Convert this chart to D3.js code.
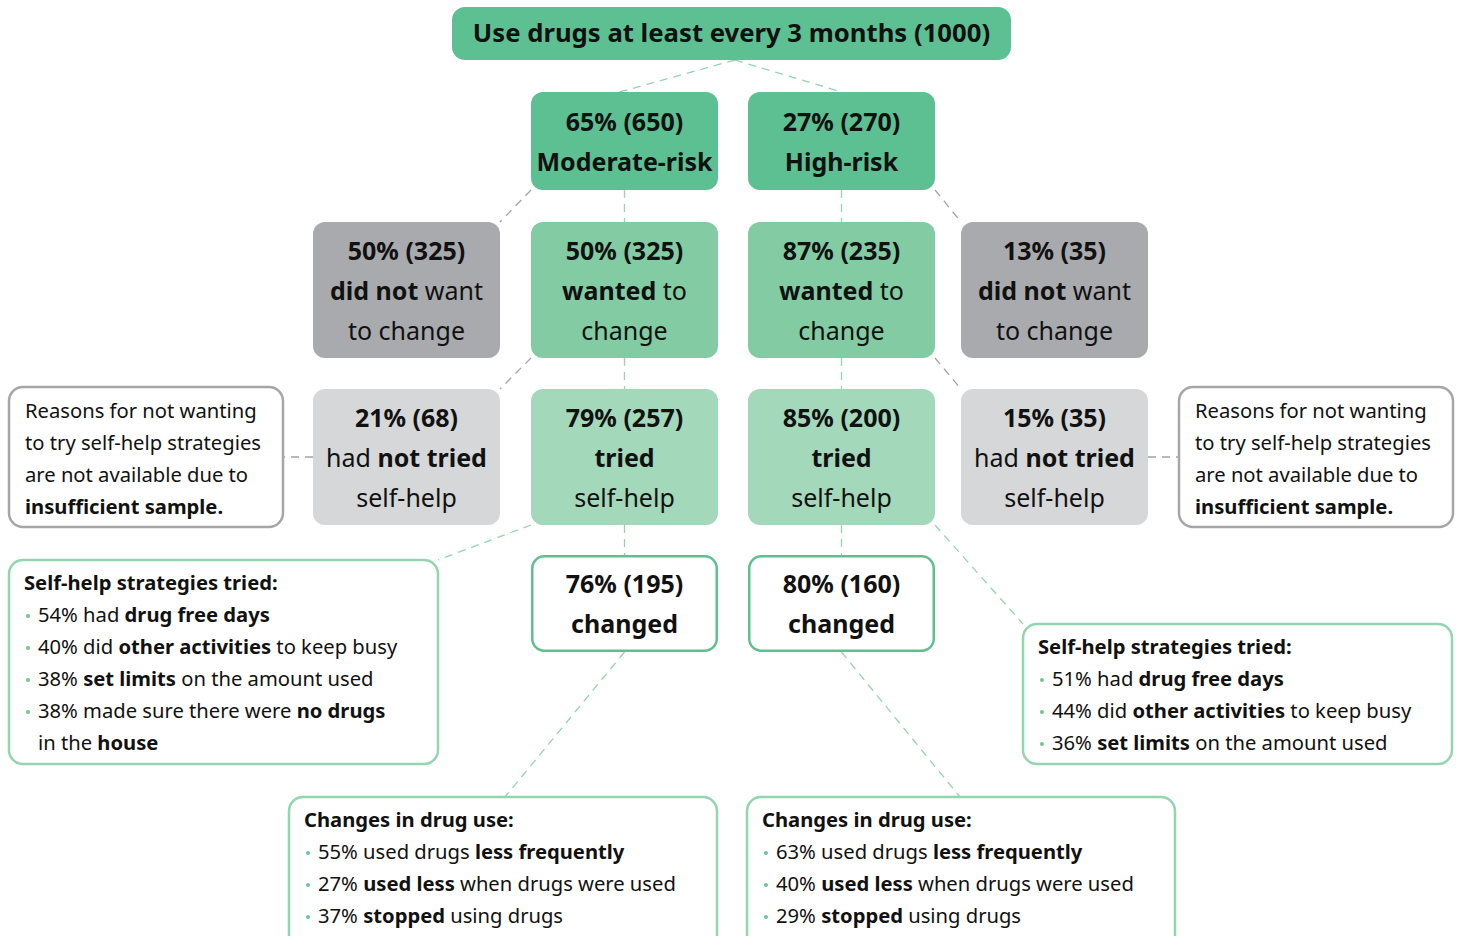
<!DOCTYPE html>
<html>
<head>
<meta charset="utf-8">
<script src="https://cdn.jsdelivr.net/npm/d3@7"></script>
<style>
body { margin: 0; background: #fff; }
svg { display: block; }
text { font-family: "Noto Sans", "Open Sans", sans-serif; fill: #111; white-space: pre; }
</style>
</head>
<body>
<svg width="1462" height="936"></svg>
<script>
// ---- data ----
var title = "Use drugs at least every 3 months (1000)";
var riskGroups = ["Moderate-risk", "High-risk"];
var riskPct = [65, 27];
var riskN = [650, 270];
var wantedPct = [50, 87];
var wantedN = [325, 235];
var notWantedPct = [50, 13];
var notWantedN = [325, 35];
var triedPct = [79, 85];
var triedN = [257, 200];
var notTriedPct = [21, 15];
var notTriedN = [68, 35];
var changedPct = [76, 80];
var changedN = [195, 160];

var reasonsNote = [
    "Reasons for not wanting",
    "to try self-help strategies",
    "are not available due to",
    "**insufficient sample.**"
];

var strategiesTitle = "Self-help strategies tried:";
var strategies = [
    [
        ["54% had **drug free days**"],
        ["40% did **other activities** to keep busy"],
        ["38% **set limits** on the amount used"],
        ["38% made sure there were **no drugs**", "in the **house**"]
    ],
    [
        ["51% had **drug free days**"],
        ["44% did **other activities** to keep busy"],
        ["36% **set limits** on the amount used"]
    ]
];

var changesTitle = "Changes in drug use:";
var changes = [
    [
        ["55% used drugs **less frequently**"],
        ["27% **used less** when drugs were used"],
        ["37% **stopped** using drugs"]
    ],
    [
        ["63% used drugs **less frequently**"],
        ["40% **used less** when drugs were used"],
        ["29% **stopped** using drugs"]
    ]
];

// ---- colours ----
var cTop = "#5dc092";
var cWanted = "#82cba3";
var cTried = "#a3d8ba";
var cGreyDark = "#a9aaae";
var cGreyLight = "#d6d7d9";
var cLineGreen = "#93d4b1";
var cLineGrey = "#a3a3a3";

var svg = d3.select("svg");

// column left edges
var xScale = d3.scaleOrdinal().domain([0, 1, 2, 3]).range([313, 531, 748, 961]);
var boxW = 187;
var rowTop = [92, 222, 389, 555];
var rowHeight = [98, 136, 136, 97];
var lineH = 40;
var nodeSize = 25;

function rich(textSel, str) {
    str.split(/(\*\*[^*]+\*\*)/).filter(function (p) { return p.length; }).forEach(function (part) {
        var bold = part.indexOf("**") === 0;
        textSel.append("tspan")
            .attr("font-weight", bold ? 700 : 400)
            .text(bold ? part.slice(2, -2) : part);
    });
}

function pct(p, n) { return "**" + p + "% (" + n + ")**"; }

// branch 0 -> columns 0/1, branch 1 -> columns 3/2
var nodes = [];
[0, 1].forEach(function (b) {
    var main = b === 0 ? 1 : 2;
    var side = b === 0 ? 0 : 3;
    nodes.push({ col: main, row: 0, fill: cTop, lines: [pct(riskPct[b], riskN[b]), "**" + riskGroups[b] + "**"] });
    nodes.push({ col: main, row: 1, fill: cWanted, lines: [pct(wantedPct[b], wantedN[b]), "**wanted** to", "change"] });
    nodes.push({ col: side, row: 1, fill: cGreyDark, lines: [pct(notWantedPct[b], notWantedN[b]), "**did not** want", "to change"] });
    nodes.push({ col: main, row: 2, fill: cTried, lines: [pct(triedPct[b], triedN[b]), "**tried**", "self-help"] });
    nodes.push({ col: side, row: 2, fill: cGreyLight, lines: [pct(notTriedPct[b], notTriedN[b]), "had **not tried**", "self-help"] });
    nodes.push({ col: main, row: 3, fill: "#fff", stroke: "#5fbf8e", lines: [pct(changedPct[b], changedN[b]), "**changed**"] });
});

function box(d) {
    return { x: xScale(d.col), y: rowTop[d.row], w: boxW, h: rowHeight[d.row] };
}
function cx(col) { return xScale(col) + boxW / 2; }
function bottom(row) { return rowTop[row] + rowHeight[row]; }

// ---- connectors ----
var left = xScale(1), right2 = xScale(2) + boxW;
var sideR = xScale(0) + boxW, sideL = xScale(3);
var connectors = [
    // top
    { p: [[735, 60], [cx(1) - 5, rowTop[0]]], c: cLineGreen },
    { p: [[735, 60], [cx(2), rowTop[0]]], c: cLineGreen },
    // verticals
    { p: [[cx(1), bottom(0)], [cx(1), rowTop[1]]], c: cLineGreen },
    { p: [[cx(2), bottom(0)], [cx(2), rowTop[1]]], c: cLineGreen },
    { p: [[cx(1), bottom(1)], [cx(1), rowTop[2]]], c: cLineGreen },
    { p: [[cx(2), bottom(1)], [cx(2), rowTop[2]]], c: cLineGreen },
    { p: [[cx(1), bottom(2)], [cx(1), rowTop[3]]], c: cLineGreen },
    { p: [[cx(2), bottom(2)], [cx(2), rowTop[3]]], c: cLineGreen },
    // side diagonals
    { p: [[left, bottom(0)], [sideR, rowTop[1]]], c: cLineGrey },
    { p: [[right2, bottom(0)], [sideL, rowTop[1]]], c: cLineGrey },
    { p: [[left, bottom(1)], [sideR, rowTop[2]]], c: cLineGrey },
    { p: [[right2, bottom(1)], [sideL, rowTop[2]]], c: cLineGrey },
    // to reason notes
    { p: [[xScale(0), 457], [283, 457]], c: cLineGrey },
    { p: [[sideL + boxW, 457], [1179, 457]], c: cLineGrey },
    // to strategy notes
    { p: [[left, bottom(2)], [438, 560]], c: cLineGreen },
    { p: [[right2, bottom(2)], [1023, 624]], c: cLineGreen },
    // to change notes
    { p: [[cx(1), bottom(3)], [505, 797]], c: cLineGreen },
    { p: [[cx(2), bottom(3)], [960, 797]], c: cLineGreen }
];

svg.selectAll("line.conn")
    .data(connectors)
    .join("line")
    .attr("class", "conn")
    .attr("x1", function (d) { return d.p[0][0]; })
    .attr("y1", function (d) { return d.p[0][1]; })
    .attr("x2", function (d) { return d.p[1][0]; })
    .attr("y2", function (d) { return d.p[1][1]; })
    .attr("stroke", function (d) { return d.c; })
    .attr("stroke-width", 1.3)
    .attr("stroke-dasharray", "8,6");

// ---- title box ----
svg.append("rect")
    .attr("x", 452).attr("y", 7).attr("width", 559).attr("height", 53)
    .attr("rx", 13).attr("fill", cTop);
svg.append("text")
    .attr("x", 731.5).attr("y", 33).attr("dy", "0.35em")
    .attr("text-anchor", "middle")
    .attr("font-size", 25.7).attr("font-weight", 700)
    .text(title);

// ---- nodes ----
var g = svg.selectAll("g.node")
    .data(nodes)
    .join("g")
    .attr("class", "node");

g.append("rect")
    .attr("x", function (d) { return box(d).x + (d.stroke ? 1.25 : 0); })
    .attr("y", function (d) { return box(d).y + (d.stroke ? 1.25 : 0); })
    .attr("width", function (d) { return box(d).w - (d.stroke ? 2.5 : 0); })
    .attr("height", function (d) { return box(d).h - (d.stroke ? 2.5 : 0); })
    .attr("rx", 12)
    .attr("fill", function (d) { return d.fill; })
    .attr("stroke", function (d) { return d.stroke || "none"; })
    .attr("stroke-width", 2.5);

g.each(function (d) {
    var b = box(d);
    var n = d.lines.length;
    var mid = b.y + b.h / 2 + 1;
    var sel = d3.select(this);
    d.lines.forEach(function (line, i) {
        var t = sel.append("text")
            .attr("x", b.x + b.w / 2)
            .attr("y", mid + (i - (n - 1) / 2) * lineH)
            .attr("dy", "0.35em")
            .attr("text-anchor", "middle")
            .attr("font-size", nodeSize);
        rich(t, line);
    });
});

// ---- notes ----
function noteBox(x, y, w, h, stroke) {
    svg.append("rect")
        .attr("x", x).attr("y", y).attr("width", w).attr("height", h)
        .attr("rx", 14).attr("fill", "#fff")
        .attr("stroke", stroke).attr("stroke-width", 2.5);
}
var noteSize = 20.2;
var noteLine = 32;

function reasons(x, y) {
    noteBox(x, y, 274, 140, "#a6a6a6");
    reasonsNote.forEach(function (line, i) {
        var t = svg.append("text")
            .attr("x", x + 16).attr("y", y + 24 + i * noteLine).attr("dy", "0.35em")
            .attr("font-size", noteSize);
        rich(t, line);
    });
}
reasons(9, 387);
reasons(1179, 387);

function bulletList(x, y, w, h, heading, items) {
    noteBox(x, y, w, h, cLineGreen);
    svg.append("text")
        .attr("x", x + 15).attr("y", y + 23).attr("dy", "0.35em")
        .attr("font-size", noteSize).attr("font-weight", 700)
        .text(heading);
    var k = 1;
    items.forEach(function (item) {
        svg.append("circle")
            .attr("cx", x + 19).attr("cy", y + 23 + k * noteLine + 1)
            .attr("r", 2).attr("fill", "#6cc497");
        item.forEach(function (line) {
            var t = svg.append("text")
                .attr("x", x + 29).attr("y", y + 23 + k * noteLine).attr("dy", "0.35em")
                .attr("font-size", noteSize);
            rich(t, line);
            k++;
        });
    });
}
bulletList(9, 560, 429, 204, strategiesTitle, strategies[0]);
bulletList(1023, 624, 429, 140, strategiesTitle, strategies[1]);
bulletList(289, 797, 428, 160, changesTitle, changes[0]);
bulletList(747, 797, 428, 160, changesTitle, changes[1]);
</script>
</body>
</html>
